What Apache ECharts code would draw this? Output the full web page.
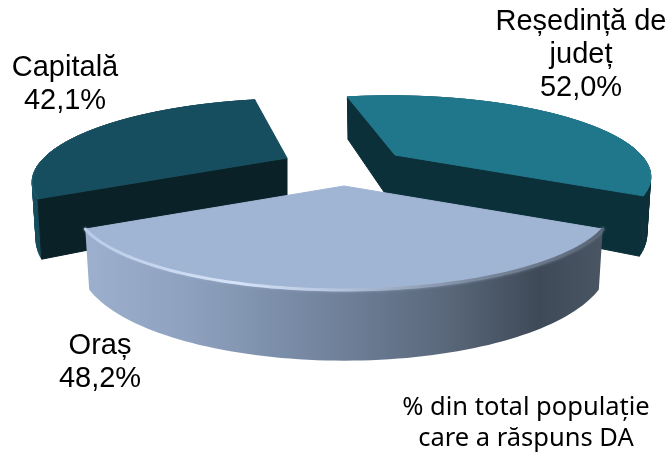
<!DOCTYPE html>
<html><head><meta charset="utf-8">
<style>html,body{margin:0;padding:0;background:#fff}#c{width:671px;height:452px}</style>
<script src="https://cdn.jsdelivr.net/npm/echarts@6/dist/echarts.min.js"></script>
</head><body><div id="c"></div>
<script>
const categories = ['Capitală', 'Reședință de\njudeț', 'Oraș'];
const values = [42.1, 52.0, 48.2];
const noteLines = ['% din total populație', 'care a răspuns DA'];

const total = values.reduce((a, b) => a + b, 0);
const sweeps = values.map(v => v / total * 2 * Math.PI);
const starts = [];
(function () { let t = sweeps[2] / 2; sweeps.forEach((s, i) => { starts[i] = t; t += s; }); })();

const K = 0.25, H = 53, LG = (x0, x1, stops) => new echarts.graphic.LinearGradient(x0, 0, x1, 0, stops, true);
const look = [
  { ax: 287, ay: 158, A: 243, B: 74, s: -13, top: '#174e5f', cut: '#0a2127', frontCut: [0], strip: true,
    wall: () => LG(30, 60, [{offset:0,color:'#175263'},{offset:.6,color:'#123f4c'},{offset:1,color:'#0a2127'}]),
    rim: () => LG(30, 120, [{offset:0,color:'#1f5f72'},{offset:1,color:'#174e5f'}]), rimW: 1, lab: [65, 84] },
  { ax: 395, ay: 155, A: 246, B: 74, s: 6, top: '#20778c', cut: '#0c303a', frontCut: [0, 80], strip: true,
    wall: () => '#0c303a',
    rim: () => LG(560, 652, [{offset:0,color:'#20778c'},{offset:.85,color:'#20778c'},{offset:1,color:'#2f7d90'}]), rimW: 1, lab: [581, 55] },
  { ax: 344, ay: 186, A: 260, B: 78, s: 0, top: '#a0b4d4', cut: '#8093ac', frontCut: [], strip: false,
    wall: () => LG(82, 601, [{offset:0,color:'#9db1cf'},{offset:.2,color:'#8ea2bf'},{offset:.45,color:'#7486a0'},{offset:.7,color:'#5a687b'},{offset:.88,color:'#3f4a58'},{offset:1,color:'#4a5564'}]),
    rim: () => LG(82, 601, [{offset:0,color:'#b9cbe8'},{offset:.3,color:'#d6e3f8'},{offset:.5,color:'#b3c3dc'},{offset:.75,color:'#7d8ba0'},{offset:1,color:'#5a6676'}]), rimW: 3, lab: [100, 362] }
];

function project(L, u, v, down) {
  const w = 1 - K * v;
  let x = (L.A * u + L.s * v) / w, y = L.B * v / w;
  if (down) { x *= 0.985; y += H / w; }
  return [L.ax + x, L.ay + y];
}
function arcPts(L, a0, a1, down) {
  const out = [];
  for (let i = 0; i <= 80; i++) {
    const t = a0 + (a1 - a0) * i / 80;
    out.push(project(L, -Math.sin(t), Math.cos(t), down));
  }
  return out;
}
function renderItem(params, api) {
  const i = params.dataIndex, L = look[i];
  const a0 = starts[i], a1 = a0 + sweeps[i];
  const top = arcPts(L, a0, a1, false), bot = arcPts(L, a0, a1, true);
  const apexT = project(L, 0, 0, false), apexB = project(L, 0, 0, true);
  const kids = [];
  const wallFill = L.wall();
  if (L.strip) {
    for (let j = 0; j < 80; j++) {
      kids.push({ type: 'polygon', shape: { points: [top[j], top[j + 1], bot[j + 1], bot[j]] },
        style: { fill: wallFill, stroke: wallFill, lineWidth: 0.8 } });
    }
  } else {
    kids.push({ type: 'polygon', shape: { points: top.concat(bot.slice().reverse()) }, style: { fill: wallFill } });
  }
  L.frontCut.forEach(idx => kids.push({ type: 'polygon', shape: { points: [apexT, top[idx], bot[idx], apexB] },
    style: { fill: L.cut, stroke: L.cut, lineWidth: 1, lineJoin: 'round' } }));
  kids.push({ type: 'polygon', shape: { points: [apexT].concat(top) }, style: { fill: L.top, stroke: L.top, lineWidth: 1, lineJoin: 'round' } });
  const rimColor = L.rim();
  kids.push({ type: 'polyline', shape: { points: top }, style: { fill: null, stroke: rimColor, lineWidth: L.rimW, lineCap: 'round',
    shadowBlur: i === 2 ? 3 : 0, shadowColor: 'rgba(160,180,212,0.6)' } });
  const text = categories[i] + '\n' + String(api.value(0).toFixed(1)).replace('.', ',') + '%';
  kids.push({ type: 'text', z2: 10, style: { x: L.lab[0], y: L.lab[1], text, fill: '#000', align: 'center', verticalAlign: 'middle',
    font: '29px "Liberation Sans", Arial, sans-serif', lineHeight: 33 } });
  return { type: 'group', children: kids };
}
const chart = echarts.init(document.getElementById('c'), null, { renderer: 'canvas' });
chart.setOption({
  animation: false,
  backgroundColor: '#fff',
  graphic: [{ type: 'text', silent: true, x: 526, y: 423, z: 20,
    style: { text: noteLines.join('\n'), x: 0, y: 0, fill: '#000', align: 'center', verticalAlign: 'middle',
      font: '25.5px "Noto Sans", sans-serif', lineHeight: 31 } }],
  series: [{
    type: 'custom', coordinateSystem: 'none', silent: true, renderItem,
    data: categories.map((c, i) => ({ name: c, value: [values[i]] }))
  }]
});
</script></body></html>
